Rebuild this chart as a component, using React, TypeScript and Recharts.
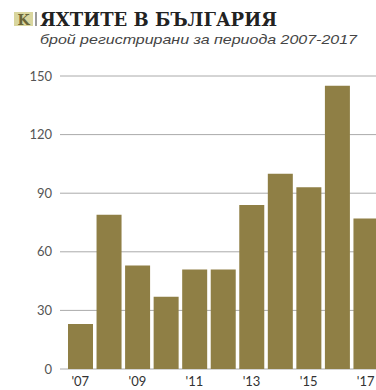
import React from 'react';
import { BarChart, Bar, XAxis, YAxis, CartesianGrid } from 'recharts';

const years = ["'07", "'08", "'09", "'10", "'11", "'12", "'13", "'14", "'15", "'16", "'17"];
const registered = [23, 79, 53, 37, 51, 51, 84, 100, 93, 145, 77];
const yTicks = [0, 30, 60, 90, 120, 150];

const data = years.map((y, i) => ({ year: y, value: registered[i] }));

function Title() {
  return (
    <svg width={376} height={52} style={{ position: 'absolute', left: 0, top: 0 }}>
      <rect x={14} y={12} width={19} height={14} fill="#d9d69e" />
      <text x={23.5} y={24.5} textAnchor="middle" fontFamily="DejaVu Serif" fontWeight="bold" fontSize={14} fill="#6b6638">K</text>
      <rect x={35} y={12} width={2} height={14} fill="#9a9a9a" />
      <text x={40} y={26} fontFamily="DejaVu Serif" fontWeight="bold" fontSize={18} fill="#222"
        textLength={237} lengthAdjust="spacingAndGlyphs">ЯХТИТЕ В БЪЛГАРИЯ</text>
      <text x={40} y={44} fontFamily="Liberation Sans" fontStyle="italic" fontSize={13} fill="#444"
        textLength={317} lengthAdjust="spacingAndGlyphs">брой регистрирани за периода 2007-2017</text>
    </svg>
  );
}

export default function App() {
  return (
    <div style={{ position: 'absolute', left: 0, top: 0, width: 376, height: 390, overflow: 'hidden', background: '#fff' }}>
      <BarChart width={380} height={390} data={data} barCategoryGap={2}
        margin={{ top: 76, right: 0, bottom: 0, left: 0 }}>
        <CartesianGrid vertical={false} stroke="#aaaaaa" />
        <XAxis dataKey="year" interval={1} axisLine={false} tickLine={false} height={21}
          padding={{ left: 6, right: 0 }}
          tick={{ fontSize: 13, fill: '#333', fontFamily: 'Lato' }} />
        <YAxis domain={[0, 150]} ticks={yTicks} axisLine={false} tickLine={false} width={60}
          tick={{ fontSize: 13, fill: '#555', fontFamily: 'Lato' }} />
        <Bar dataKey="value" fill="#8f7f45" isAnimationActive={false} />
      </BarChart>
      <Title />
    </div>
  );
}
